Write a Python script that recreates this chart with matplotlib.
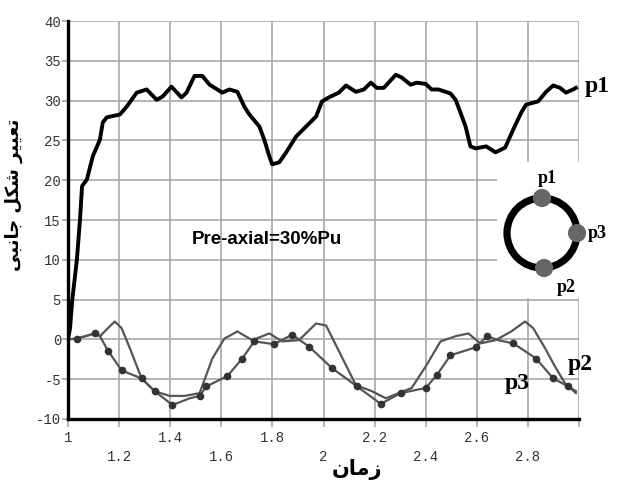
import numpy as np
import matplotlib
matplotlib.use('Agg')
import matplotlib.pyplot as plt
from matplotlib.patches import Circle

# p1
p1_t = [1.0, 1.008, 1.016, 1.035, 1.047, 1.055, 1.074, 1.097, 1.125, 1.136, 1.152, 1.203, 1.230,
        1.269, 1.308, 1.347, 1.370, 1.405, 1.444, 1.464, 1.495, 1.526, 1.554, 1.604, 1.632, 1.663,
        1.690, 1.710, 1.749, 1.768, 1.788, 1.799, 1.827, 1.854, 1.893, 1.932, 1.971, 1.994, 2.021,
        2.060, 2.088, 2.127, 2.158, 2.185, 2.209, 2.236, 2.283, 2.306, 2.341, 2.365, 2.400, 2.423,
        2.450, 2.497, 2.517, 2.536, 2.556, 2.575, 2.595, 2.637, 2.673, 2.711, 2.743, 2.774, 2.793,
        2.840, 2.871, 2.899, 2.926, 2.949, 2.977, 2.988]
p1_v = [0, 1.4, 4.75, 10.1, 15.1, 19.25, 20.1, 23, 25.1, 27.25, 27.9, 28.25, 29.25,
        31, 31.4, 30.1, 30.5, 31.75, 30.4, 31, 33.1, 33.1, 32, 31, 31.4, 31.1,
        29.25, 28.25, 26.75, 25.1, 23, 22, 22.25, 23.5, 25.5, 26.75, 28, 29.9, 30.4,
        31, 31.9, 31.1, 31.4, 32.25, 31.6, 31.6, 33.25, 32.9, 32, 32.25, 32.1, 31.4,
        31.4, 30.9, 30.1, 28.5, 26.75, 24.25, 24, 24.25, 23.5, 24.1, 26.4, 28.5, 29.5,
        29.9, 31.1, 31.9, 31.6, 31, 31.4, 31.6]

# p2 - plain grey line
p2_t = [1.0, 1.035, 1.105, 1.125, 1.156, 1.183, 1.21, 1.242, 1.288, 1.339, 1.398, 1.456, 1.515,
        1.565, 1.612, 1.663, 1.721, 1.788, 1.838, 1.904, 1.971, 2.010, 2.049, 2.127, 2.189, 2.244,
        2.294, 2.345, 2.400, 2.458, 2.517, 2.567, 2.614, 2.673, 2.735, 2.789, 2.821, 2.867, 2.906,
        2.945, 2.988]
p2_v = [0, 0.1, 0.75, 0.4, 1.4, 2.25, 1.4, -1.1, -4.9, -6.5, -7.1, -7.1, -6.75,
        -2.4, 0.1, 1.0, -0.1, 0.75, -0.25, -0.1, 2.0, 1.75, -0.75, -5.75, -6.5, -7.4,
        -6.75, -6.1, -3.4, -0.25, 0.4, 0.75, -0.5, -0.1, 1.0, 2.25, 1.4, -1.1, -3.4,
        -5.5, -6.75]

# p3 - grey line with dots
p3_t = [1.0, 1.035, 1.105, 1.125, 1.156, 1.21, 1.288, 1.339, 1.409, 1.476, 1.515, 1.542, 1.624,
        1.682, 1.729, 1.807, 1.877, 1.943, 2.033, 2.131, 2.224, 2.302, 2.400, 2.443, 2.497, 2.595,
        2.641, 2.684, 2.743, 2.832, 2.899, 2.957, 2.988]
p3_v = [0, 0.1, 0.75, 0.4, -1.4, -3.9, -4.9, -6.5, -8.25, -7.4, -7.1, -5.9, -4.6,
        -2.4, -0.25, -0.6, 0.6, -0.9, -3.6, -5.9, -8.1, -6.75, -6.1, -4.5, -2.0, -1.0,
        0.4, -0.1, -0.5, -2.4, -4.9, -5.9, -6.5]
p3_dots = [1, 2, 4, 5, 6, 7, 8, 10, 11, 12, 13, 14, 15, 16, 17, 18, 19, 20, 21, 22, 23, 24, 25,
           26, 28, 29, 30, 31]

x_upper = [1.0, 1.4, 1.8, 2.2, 2.6]
x_upper_lab = ['1', '1.4', '1.8', '2.2', '2.6']
x_lower = [1.2, 1.6, 2.0, 2.4, 2.8, 3.0]
x_lower_lab = ['1.2', '1.6', '2', '2.4', '2.8', '']
y_ticks = [-10, -5, 0, 5, 10, 15, 20, 25, 30, 35, 40]

# arabic text already shaped (presentation forms, visual order)
xlab = '\uFEE5\uFE8E\uFEE3\uFEAF'
ylab = '\uFEF0\uFE92\uFEE7\uFE8E\uFE9F \uFEDE\uFEDC\uFEB7 \uFEAE\uFEF4\uFEF4\uFECC\uFE97'

fig = plt.figure(figsize=(6.19, 4.83), dpi=100)
ax = fig.add_axes([68/619, 1-419/483, 511/619, 398/483])

ax.plot(p1_t, p1_v, color='black', lw=2.8, zorder=5)
ax.plot(p2_t, p2_v, color='#555555', lw=1.6, zorder=4)
ax.plot(p3_t, p3_v, color='#555555', lw=1.6, zorder=4,
        marker='o', markevery=p3_dots, ms=4.5, mfc='#333333', mec='#333333')

ax.set_xlim(1, 3)
ax.set_ylim(-10, 40)
ax.set_xticks(x_upper, x_upper_lab)
ax.set_xticks(x_lower, x_lower_lab, minor=True)
ax.set_yticks(y_ticks, [str(v) for v in y_ticks])
ax.grid(True, which='both', color='#a8a8a8', lw=1.2, zorder=0)
ax.set_axisbelow(True)

for s in ['top', 'right']:
    ax.spines[s].set_visible(False)
for s in ['left', 'bottom']:
    ax.spines[s].set_linewidth(2.4)
    ax.spines[s].set_color('black')

ax.tick_params(axis='x', which='major', length=6, width=1.2, color='#a8a8a8', pad=3,
               labelcolor='#333333', labelsize=10)
ax.tick_params(axis='x', which='minor', length=6, width=1.2, color='#a8a8a8', pad=16,
               labelcolor='#333333', labelsize=10)
ax.tick_params(axis='y', length=4, width=1.2, color='#a8a8a8', pad=1,
               labelcolor='#333333', labelsize=10)
for lbl in ax.get_xticklabels(which='both') + ax.get_yticklabels():
    lbl.set_family('Liberation Mono')

ax.text(0.39, 0.45, 'Pre-axial=30%Pu', transform=ax.transAxes, ha='center', va='center',
        family='Liberation Sans', fontweight='bold', fontsize=13.5)

serif = dict(family='Liberation Serif', fontweight='bold')
ax.text(3.023, 31.8, 'p1', ha='left', va='center', fontsize=17, clip_on=False, **serif)
ax.text(2.957, -3.2, 'p2', ha='left', va='center', fontsize=17, clip_on=False, **serif)
ax.text(2.711, -5.5, 'p3', ha='left', va='center', fontsize=17, clip_on=False, **serif)

fig.text(357/619, 1-469/483, xlab, ha='center', va='center', fontsize=15, fontweight='bold')
fig.text(14/619, 1-195/483, ylab, ha='center', va='center', rotation=90, fontsize=13,
         fontweight='bold')

# ring sketch
ins = fig.add_axes([497/619, 1-298/483, 122/619, 136/483])
ins.set_xlim(-1.286, 2.2)
ins.set_ylim(-1.857, 2.03)
ins.axis('off')
ins.add_patch(plt.Rectangle((-1.286, -1.857), 3.486, 3.887, color='white', zorder=0))
ins.add_patch(Circle((0, 0), 1.0, fill=False, lw=5.2, ec='black', zorder=2))
for cx, cy in [(0, 1.0), (1.0, 0), (0.06, -1.0)]:
    ins.add_patch(Circle((cx, cy), 0.24, color='#666666', zorder=3))
ins.text(0.14, 1.57, 'p1', ha='center', va='center', fontsize=13, **serif)
ins.text(1.3, 0.0, 'p3', ha='left', va='center', fontsize=13, **serif)
ins.text(0.69, -1.55, 'p2', ha='center', va='center', fontsize=13, **serif)

fig.savefig('out.png', dpi=100)
